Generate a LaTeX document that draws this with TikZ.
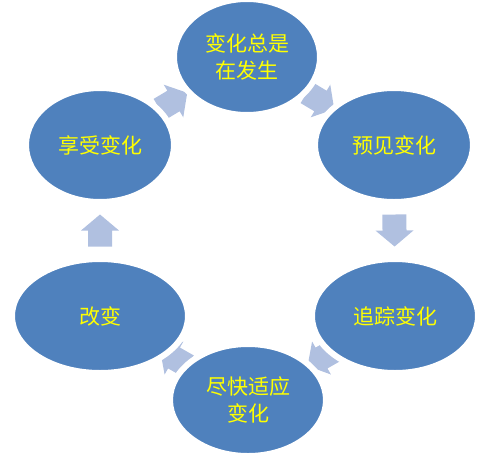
\documentclass[tikz,border=0pt]{standalone}
\usepackage{fontspec}
\newfontfamily\cjk{Noto Sans CJK SC}
\usetikzlibrary{shapes.geometric,backgrounds}
\definecolor{cycleblue}{RGB}{79,129,189}
\definecolor{arrowblue}{RGB}{176,192,224}
\definecolor{textyellow}{RGB}{255,255,0}

\tikzset{turn/.pic={
    \fill[arrowblue] (-16,-12) -- (0,-12) -- (0,-19) -- (16,0) -- (0,19) -- (0,12) -- (-16,12) -- cycle;
}}

\begin{document}
\begin{tikzpicture}[x=1pt,y=-1pt,
        stage/.style={ellipse,fill=cycleblue,draw=white,line width=6pt,inner sep=0pt,
          text=textyellow,font={\cjk\fontsize{21}{27}\selectfont},align=center}]
  \useasboundingbox (0,0) rectangle (500,461);
  \node[stage,minimum width=146pt,minimum height=116pt] (zongshi) at (247,57) {变化总是\\在发生};
  \node[stage,minimum width=158pt,minimum height=114pt] (yujian) at (394,145) {预见变化};
  \node[stage,minimum width=166pt,minimum height=114pt] (zhuizong) at (395,316) {追踪变化};
  \node[stage,minimum width=156pt,minimum height=112pt] (shiying) at (248,400) {尽快适应\\变化};
  \node[stage,minimum width=176pt,minimum height=114pt] (gaibian) at (100,316) {改变};
  \node[stage,minimum width=148pt,minimum height=114pt] (xiangshou) at (100,145) {享受变化};
  % arrows go under the ellipses
  \begin{scope}[on background layer]
    \path (zongshi.center) -- pic[sloped,allow upside down] {turn} (yujian.center);
    \path (yujian.center) -- pic[sloped,allow upside down] {turn} (zhuizong.center);
    \path (zhuizong.center) -- pic[sloped,allow upside down] {turn} (shiying.center);
    \path (shiying.center) -- pic[sloped,allow upside down] {turn} (gaibian.center);
    \path (gaibian.center) -- pic[sloped,allow upside down] {turn} (xiangshou.center);
    \path (xiangshou.center) -- pic[sloped,allow upside down] {turn} (zongshi.center);
  \end{scope}
\end{tikzpicture}
\end{document}
